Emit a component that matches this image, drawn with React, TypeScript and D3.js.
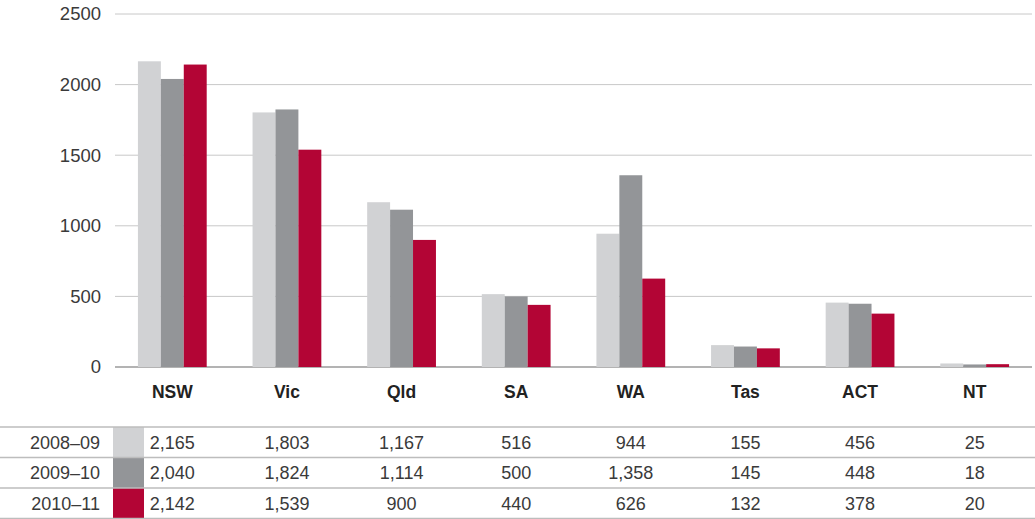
import React from "react";
import { scaleBand, scaleLinear, format } from "d3";

const states = ["NSW", "Vic", "Qld", "SA", "WA", "Tas", "ACT", "NT"];
const years = ["2008–09", "2009–10", "2010–11"];
const values2008 = [2165, 1803, 1167, 516, 944, 155, 456, 25];
const values2009 = [2040, 1824, 1114, 500, 1358, 145, 448, 18];
const values2010 = [2142, 1539, 900, 440, 626, 132, 378, 20];
const yTicks = [0, 500, 1000, 1500, 2000, 2500];
const colors = ["#d1d2d4", "#939598", "#b30535"];

const series = [values2008, values2009, values2010];

export default function App() {
  const width = 1035;
  const height = 519;
  const margin = { top: 14, right: 3, left: 115 };
  const zeroY = 367;
  const innerWidth = width - margin.left - margin.right;
  const font = "'Liberation Sans', Arial, Helvetica, sans-serif";
  const textColor = "#3a3a3a";

  const xScale = scaleBand()
    .domain(states)
    .range([margin.left, margin.left + innerWidth])
    .paddingInner(0.4)
    .paddingOuter(0.2);
  const subScale = scaleBand()
    .domain(years)
    .range([0, xScale.bandwidth()]);
  const yScale = scaleLinear().domain([0, 2500]).range([zeroY, margin.top]);

  const fmt = format(",");
  const tableTop = 427;
  const rowH = 30.5;

  return (
    <div style={{ position: "absolute", left: 0, top: 0 }}>
      <svg width={width} height={height} style={{ fontFamily: font }}>
        {yTicks.map((t) => (
          <g key={t}>
            <line
              x1={margin.left}
              x2={width - 3}
              y1={yScale(t)}
              y2={yScale(t)}
              stroke={t === 0 ? "#9a9a9a" : "#c8c8c8"}
              strokeWidth={t === 0 ? 1.5 : 1}
            />
            <text
              x={101}
              y={yScale(t)}
              dy=".35em"
              textAnchor="end"
              fontSize={18.5}
              fill={textColor}
            >
              {t}
            </text>
          </g>
        ))}
        {series.map((vals, si) =>
          vals.map((v, i) => (
            <rect
              key={`${si}-${i}`}
              x={(xScale(states[i]) as number) + (subScale(years[si]) as number)}
              y={yScale(v)}
              width={subScale.bandwidth()}
              height={zeroY - yScale(v)}
              fill={colors[si]}
            />
          ))
        )}
        {states.map((s) => (
          <text
            key={s}
            x={(xScale(s) as number) + xScale.bandwidth() / 2}
            y={392}
            dy=".35em"
            textAnchor="middle"
            fontSize={17.5}
            fontWeight="bold"
            fill="#222"
          >
            {s}
          </text>
        ))}
        {years.map((yr, ri) => {
          const top = tableTop + ri * rowH;
          return (
            <g key={yr}>
              <rect
                x={113}
                y={top}
                width={31}
                height={rowH}
                fill={colors[ri]}
              />
              <text
                x={100}
                y={top + rowH / 2}
                dy=".35em"
                textAnchor="end"
                fontSize={18}
                fill={textColor}
              >
                {yr}
              </text>
              {series[ri].map((v, i) => (
                <text
                  key={i}
                  x={(xScale(states[i]) as number) + xScale.bandwidth() / 2}
                  y={top + rowH / 2}
                  dy=".35em"
                  textAnchor="middle"
                  fontSize={18}
                  fill={textColor}
                >
                  {fmt(v)}
                </text>
              ))}
            </g>
          );
        })}
        {[0, 1, 2, 3].map((k) => (
          <line
            key={k}
            x1={0}
            x2={width}
            y1={tableTop + k * rowH}
            y2={tableTop + k * rowH}
            stroke="#bdbdbd"
            strokeWidth={1.5}
          />
        ))}
      </svg>
    </div>
  );
}
